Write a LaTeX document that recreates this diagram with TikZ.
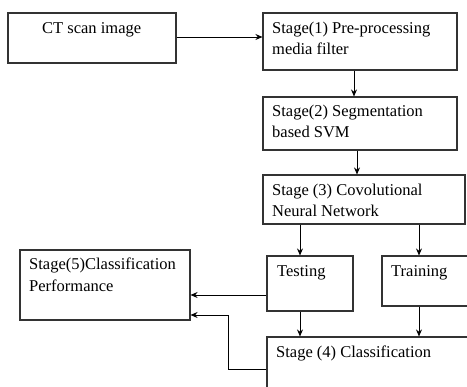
\documentclass[tikz,border=0pt]{standalone}
\usepackage{fontspec}
\setmainfont{Liberation Serif}
\usetikzlibrary{arrows.meta}
\begin{document}
\begin{tikzpicture}[x=1pt,y=-1pt,
  box/.style={draw=black!80,line width=1.1pt,rectangle,inner sep=0pt},
  txt/.style={anchor=base west,inner sep=0pt,font=\fontsize{16.5}{20}\selectfont},
  arr/.style={draw=black,line width=0.9pt,-{Stealth[length=7pt,width=6pt]}}]
\useasboundingbox (0,0) rectangle (467,387);
\clip (0,0) rectangle (467,387);
\fill[white] (0,0) rectangle (467,387);
% boxes
\node[box,minimum width=168pt,minimum height=50pt] (ct) at (92,38) {};
\node[box,minimum width=194pt,minimum height=57pt] (s1) at (360,41.5) {};
\node[box,minimum width=194pt,minimum height=53pt] (s2) at (360,123.5) {};
\node[box,minimum width=202pt,minimum height=49pt] (s3) at (364,199.5) {};
\node[box,minimum width=86pt,minimum height=55pt] (test) at (310,283.5) {};
\node[box,minimum width=118pt,minimum height=50pt] (train) at (441,281) {};
\node[box,minimum width=170pt,minimum height=70pt] (s5) at (105,285) {};
\node[box,minimum width=233pt,minimum height=83pt] (s4) at (383.5,378.5) {};
% texts
\node[txt] (tct) at (42,34) {CT scan image};
\node[txt] (t1a) at (272,34) {Stage(1) Pre-processing};
\node[txt] (t1b) at (272,55) {media filter};
\node[txt] (t2a) at (272,117) {Stage(2) Segmentation};
\node[txt] (t2b) at (272,138) {based SVM};
\node[txt] (t3a) at (272,196) {Stage (3) Covolutional};
\node[txt] (t3b) at (272,217) {Neural Network};
\node[txt] (t5a) at (29,270) {Stage(5)Classification};
\node[txt] (t5b) at (29,292) {Performance};
\node[txt] (tte) at (277,277) {Testing};
\node[txt] (ttr) at (391,277) {Training};
\node[txt] (t4) at (276,358) {Stage (4) Classification};
% connectors
\draw[arr] (ct.east |- 0,37) -- (s1.west |- 0,37);
\draw[arr] (s1.south -| 354,0) -- (s2.north -| 354,0);
\draw[arr] (s2.south -| 357,0) -- (s3.north -| 357,0);
\draw[arr] (s3.south -| 300,0) -- (test.north -| 300,0);
\draw[arr] (s3.south -| 419,0) -- (train.north -| 419,0);
\draw[arr] (test.south -| 300,0) -- (s4.north -| 300,0);
\draw[arr] (train.south -| 419,0) -- (s4.north -| 419,0);
\draw[arr] (test.west |- 0,295) -- (s5.east |- 0,295);
\coordinate (bend1) at (228,369);
\coordinate (bend2) at (228,315);
\draw[arr] (s4.west |- bend1) -- (bend1) -- (bend2) -- (s5.east |- bend2);
\end{tikzpicture}
\end{document}
